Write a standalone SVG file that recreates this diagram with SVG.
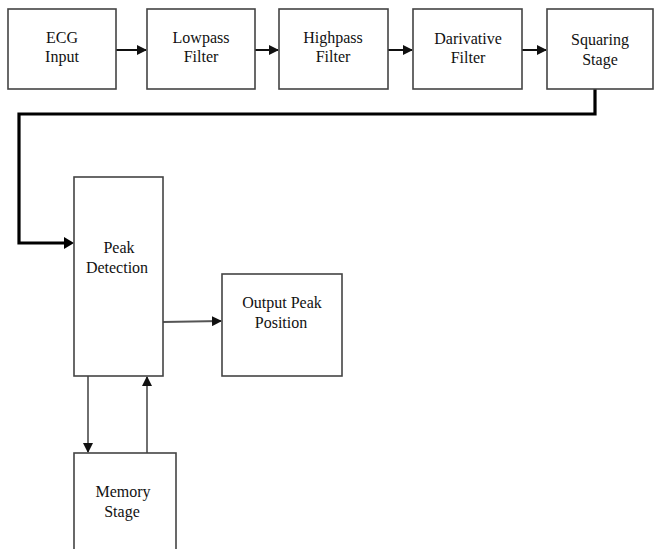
<svg xmlns="http://www.w3.org/2000/svg" width="654" height="549" viewBox="0 0 654 549">
<style>
.box{fill:#fff;stroke:#444;stroke-width:1.6}
.t{font-family:"Liberation Serif","Times New Roman",serif;font-size:16px;fill:#111;text-anchor:middle}
.c{fill:none;stroke:#111;stroke-width:2}
.thin{fill:none;stroke:#222;stroke-width:1.3}
</style>
<defs>
<marker id="ah" markerWidth="10" markerHeight="10" refX="9" refY="5" orient="auto" markerUnits="userSpaceOnUse">
<path d="M0,0 L10,5 L0,10 z" fill="#111"/>
</marker>
</defs>
<rect width="654" height="549" fill="#fff"/>
<g id="connectors">
<line class="c" x1="116" y1="50" x2="146" y2="50" marker-end="url(#ah)"/>
<line class="c" x1="255" y1="50" x2="278" y2="50" marker-end="url(#ah)"/>
<line class="c" x1="388" y1="50" x2="412" y2="50" marker-end="url(#ah)"/>
<line class="c" x1="522" y1="50" x2="546" y2="50" marker-end="url(#ah)"/>
<path d="M595,89 V114 H19 V243 H66" fill="none" stroke="#000" stroke-width="3.2"/>
<path d="M64,237 L74,243 L64,249 z" fill="#000"/>
<line x1="163" y1="322" x2="221" y2="321" stroke="#555" stroke-width="2" marker-end="url(#ah)"/>
<line class="thin" x1="88" y1="376" x2="88" y2="452" marker-end="url(#ah)"/>
<line class="thin" x1="147" y1="453" x2="147" y2="377" marker-end="url(#ah)"/>
</g>
<g id="ecg"><rect class="box" x="8" y="9" width="108" height="80"/><text class="t" x="62" y="43">ECG</text><text class="t" x="62" y="62">Input</text></g>
<g id="lowpass"><rect class="box" x="147" y="9" width="108" height="80"/><text class="t" x="201" y="43">Lowpass</text><text class="t" x="201" y="62">Filter</text></g>
<g id="highpass"><rect class="box" x="279" y="9" width="109" height="80"/><text class="t" x="333" y="43">Highpass</text><text class="t" x="333" y="62">Filter</text></g>
<g id="derivative"><rect class="box" x="413" y="9" width="109" height="80"/><text class="t" x="468" y="44">Darivative</text><text class="t" x="468" y="63">Filter</text></g>
<g id="squaring"><rect class="box" x="547" y="9" width="106" height="80"/><text class="t" x="600" y="45">Squaring</text><text class="t" x="600" y="65">Stage</text></g>
<g id="peak"><rect class="box" x="74" y="177" width="89" height="199"/><text class="t" x="119" y="253">Peak</text><text class="t" x="117" y="273">Detection</text></g>
<g id="output"><rect class="box" x="222" y="274" width="120" height="102"/><text class="t" x="282" y="308">Output Peak</text><text class="t" x="281" y="328">Position</text></g>
<g id="memory"><rect class="box" x="74" y="453" width="102" height="100"/><text class="t" x="123" y="497">Memory</text><text class="t" x="122" y="517">Stage</text></g>
</svg>
